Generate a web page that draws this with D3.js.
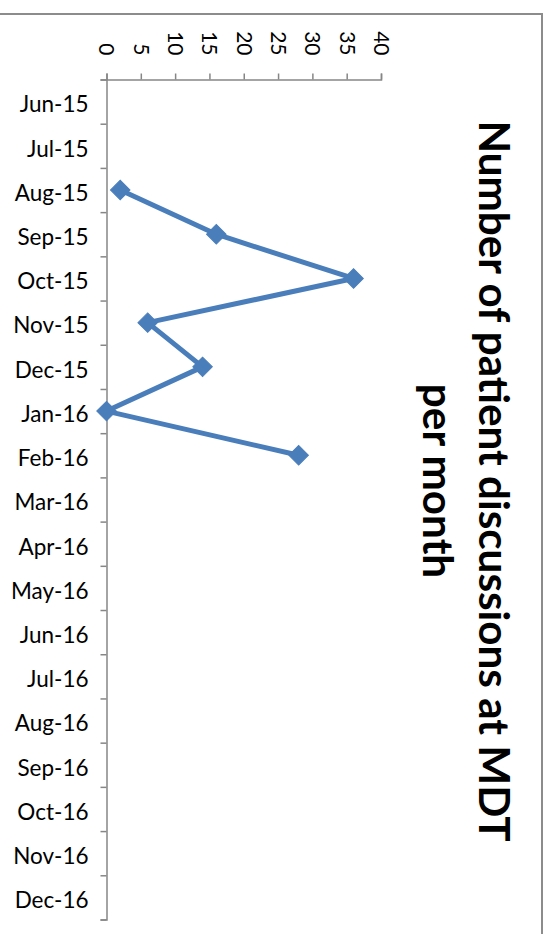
<!DOCTYPE html>
<html lang="en">
<head>
    <meta charset="UTF-8">
    <title>MDT discussions</title>
    <script src="https://cdn.jsdelivr.net/npm/d3@7"></script>
    <style>
        body { margin: 0; background: #fff; }
        text { font-family: Lato, "Open Sans", sans-serif; fill: #000; }
    </style>
</head>
<body>
<div id="myDiv"></div>
<script>

    // months on the category axis
    const months = ["Jun-15", "Jul-15", "Aug-15", "Sep-15", "Oct-15", "Nov-15", "Dec-15",
        "Jan-16", "Feb-16", "Mar-16", "Apr-16", "May-16", "Jun-16", "Jul-16", "Aug-16",
        "Sep-16", "Oct-16", "Nov-16", "Dec-16"];
    // discussions per month (null = no data)
    const discussions = [null, null, 2, 16, 36, 6, 14, 0, 28, null, null, null, null,
        null, null, null, null, null, null];
    const valueTicks = [0, 5, 10, 15, 20, 25, 30, 35, 40];
    const titleLines = ["Number of patient discussions at MDT", "per month"];

    const width = 552, height = 934;
    const axisColor = "#868686";
    const lineColor = "#4a7ebb";

    const svg = d3.select("#myDiv").append("svg")
        .attr("width", width)
        .attr("height", height);

    // chart border (left and bottom edges fall outside the picture)
    svg.append("rect")
        .attr("x", -3).attr("y", 14)
        .attr("width", 545).attr("height", 940)
        .attr("fill", "none")
        .attr("stroke", "#8c8c8c")
        .attr("stroke-width", 2);

    const plotTop = 79.5, plotBottom = 919.5, plotLeft = 106.5, plotRight = 381;

    const x = d3.scaleLinear().domain([0, 40]).range([plotLeft, plotRight]);
    const y = d3.scaleBand().domain(months).range([plotTop, plotBottom]);
    const yEdges = d3.scaleLinear().domain([0, months.length]).range([plotTop, plotBottom]);

    // value axis along the top, labels turned
    const xAxis = svg.append("g")
        .attr("transform", `translate(0,${plotTop})`)
        .call(d3.axisTop(x).tickValues(valueTicks).tickSize(6).tickFormat(d3.format("d")));
    xAxis.selectAll("path, line").attr("stroke", axisColor).attr("stroke-width", 1.5);
    xAxis.selectAll("text")
        .attr("x", 0).attr("y", 0).attr("dy", "0.36em")
        .attr("text-anchor", "end")
        .attr("transform", "translate(0,-24) rotate(90)")
        .style("font-size", "21px")
        .style("font-family", "Lato, sans-serif");

    // category axis: ticks between months
    const yTicks = svg.append("g")
        .attr("transform", `translate(${plotLeft},0)`)
        .call(d3.axisLeft(yEdges).tickValues(d3.range(months.length + 1)).tickSize(6).tickFormat(""));
    yTicks.selectAll("path, line").attr("stroke", axisColor).attr("stroke-width", 1.5);

    const yLabels = svg.append("g")
        .attr("transform", `translate(${plotLeft},0)`)
        .call(d3.axisLeft(y).tickSize(0).tickPadding(18));
    yLabels.select(".domain").remove();
    yLabels.selectAll("text")
        .attr("dy", "0.48em")
        .style("font-size", "22.5px")
        .style("font-family", "Lato, sans-serif");

    // series
    const points = months.map((m, i) => ({month: m, value: discussions[i]}))
        .filter(d => d.value !== null);

    const line = d3.line()
        .x(d => x(d.value))
        .y(d => y(d.month) + y.bandwidth() / 2);

    svg.append("path")
        .datum(points)
        .attr("d", line)
        .attr("fill", "none")
        .attr("stroke", lineColor)
        .attr("stroke-width", 5)
        .attr("stroke-linejoin", "round");

    svg.selectAll(".marker")
        .data(points)
        .enter()
        .append("path")
        .attr("class", "marker")
        .attr("d", d3.symbol(d3.symbolSquare, 190))
        .attr("transform", d => `translate(${x(d.value)},${y(d.month) + y.bandwidth() / 2}) rotate(45)`)
        .attr("fill", lineColor)
        .attr("stroke", lineColor)
        .attr("stroke-width", 1);

    // title, turned to read downwards
    const title = svg.append("g")
        .attr("transform", "translate(479,481) rotate(90)");
    const titleSize = 42;
    const t1 = title.append("text")
        .attr("text-anchor", "middle")
        .style("font-weight", "bold")
        .style("font-size", titleSize + "px")
        .text(titleLines[0]);
    const t2 = title.append("text")
        .attr("text-anchor", "middle")
        .attr("y", 56)
        .style("font-weight", "bold")
        .style("font-size", titleSize + "px")
        .text(titleLines[1]);
    // squeeze both lines by the same factor so line 1 spans the width in the picture
    const squeeze = 721 / t1.node().getComputedTextLength();
    [t1, t2].forEach(t => {
        t.attr("textLength", t.node().getComputedTextLength() * squeeze)
            .attr("lengthAdjust", "spacingAndGlyphs");
    });

</script>
</body>
</html>
